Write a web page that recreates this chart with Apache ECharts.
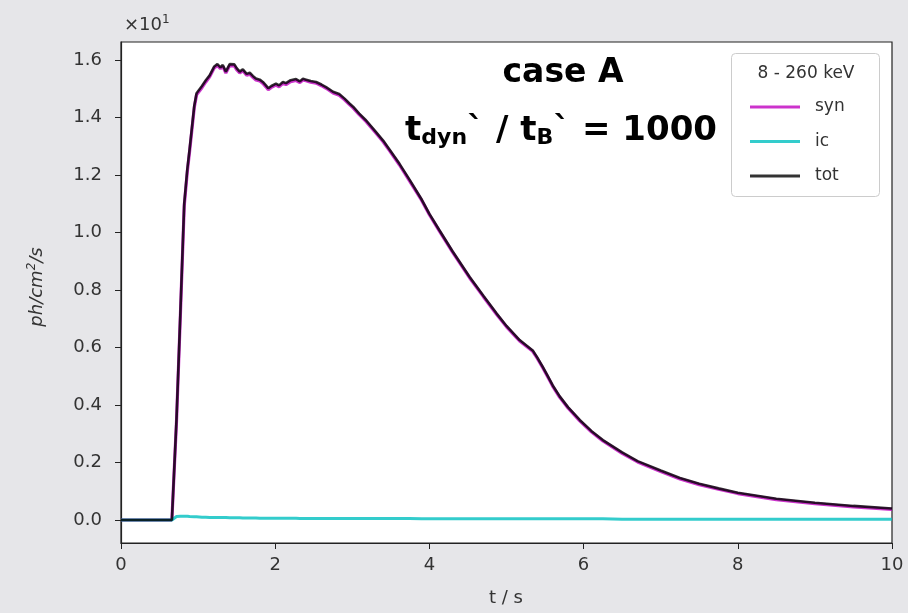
<!DOCTYPE html>
<html>
<head>
<meta charset="utf-8">
<script src="https://cdn.jsdelivr.net/npm/echarts@6/dist/echarts.min.js"></script>
<style>
html,body{margin:0;padding:0;background:#e6e6e9;}
#chart{width:908px;height:613px;}
</style>
</head>
<body>
<div id="chart"></div>
<script>
// time axis (s)
const timeValues = [0.00,0.66,0.72,0.77,0.82,0.86,0.89,0.95,0.98,1.05,1.10,1.15,1.21,1.25,1.29,1.32,1.36,1.41,1.47,1.50,1.54,1.58,1.63,1.67,1.71,1.75,1.80,1.84,1.88,1.91,1.95,2.01,2.05,2.10,2.14,2.20,2.27,2.32,2.36,2.40,2.46,2.53,2.60,2.66,2.75,2.83,2.90,2.96,3.01,3.09,3.18,3.30,3.40,3.48,3.61,3.74,3.90,4.00,4.13,4.30,4.52,4.70,4.87,5.00,5.17,5.34,5.40,5.47,5.52,5.60,5.69,5.80,5.95,6.10,6.25,6.50,6.70,7.00,7.25,7.50,7.75,8.00,8.50,9.00,9.50,10.00];
// total flux (x10^1 ph/cm^2/s)
const totValues = [0.000,0.000,0.350,0.720,1.100,1.220,1.290,1.440,1.485,1.510,1.530,1.547,1.578,1.586,1.575,1.583,1.560,1.586,1.585,1.572,1.560,1.568,1.552,1.556,1.545,1.536,1.532,1.524,1.512,1.502,1.510,1.518,1.512,1.524,1.520,1.530,1.534,1.526,1.535,1.532,1.527,1.524,1.515,1.506,1.490,1.482,1.466,1.450,1.438,1.414,1.390,1.352,1.320,1.290,1.240,1.185,1.115,1.065,1.008,0.935,0.846,0.780,0.719,0.675,0.626,0.590,0.565,0.533,0.508,0.468,0.430,0.392,0.348,0.310,0.278,0.235,0.205,0.172,0.146,0.126,0.110,0.095,0.074,0.060,0.049,0.040];
// synchrotron component
const synValues = [0.000,0.000,0.343,0.711,1.092,1.212,1.283,1.434,1.479,1.504,1.524,1.542,1.573,1.581,1.570,1.578,1.555,1.581,1.580,1.567,1.555,1.563,1.547,1.551,1.540,1.531,1.527,1.519,1.507,1.497,1.505,1.513,1.507,1.519,1.515,1.525,1.529,1.522,1.531,1.528,1.523,1.520,1.511,1.502,1.486,1.478,1.462,1.446,1.434,1.410,1.386,1.348,1.316,1.286,1.236,1.181,1.112,1.062,1.005,0.932,0.843,0.777,0.716,0.672,0.623,0.587,0.562,0.530,0.505,0.465,0.427,0.389,0.345,0.307,0.275,0.232,0.202,0.169,0.143,0.123,0.107,0.092,0.071,0.057,0.046,0.037];
// inverse Compton component
const icValues = [0.000,0.000,0.012,0.013,0.013,0.013,0.012,0.011,0.011,0.010,0.010,0.009,0.009,0.009,0.009,0.009,0.009,0.008,0.008,0.008,0.008,0.007,0.007,0.007,0.007,0.007,0.006,0.006,0.006,0.006,0.006,0.006,0.006,0.006,0.006,0.006,0.006,0.005,0.005,0.005,0.005,0.005,0.005,0.005,0.005,0.005,0.005,0.005,0.005,0.005,0.005,0.005,0.005,0.005,0.005,0.005,0.004,0.004,0.004,0.004,0.004,0.004,0.004,0.004,0.004,0.004,0.004,0.004,0.004,0.004,0.004,0.004,0.004,0.004,0.004,0.003,0.003,0.003,0.003,0.003,0.003,0.003,0.003,0.003,0.003,0.003];

const xTicks = [0,2,4,6,8,10];
const yTicks = [0.0,0.2,0.4,0.6,0.8,1.0,1.2,1.4,1.6];
const seriesNames = ['syn','ic','tot'];
const legendTitle = '8 - 260 keV';

const pairs = (ys) => timeValues.map((t,i)=>[t, ys[i]]);

const chart = echarts.init(document.getElementById('chart'), null, {renderer:'canvas'});
const tickFont = {fontFamily:'DejaVu Sans', fontSize:18, color:'#333'};

chart.setOption({
  animation:false,
  backgroundColor:'#e6e6e9',
  grid:{left:121, right:16, top:42, bottom:70, show:true, backgroundColor:'#ffffff', borderColor:'#222', borderWidth:1.2},
  xAxis:{
    type:'value', min:0, max:10, interval:2,
    axisLine:{show:true, onZero:false, lineStyle:{color:'#222', width:1.2}},
    axisTick:{show:true, length:6, lineStyle:{color:'#222'}, customValues:xTicks},
    axisLabel:{...tickFont, margin:13, customValues:xTicks, formatter:v=>String(v)},
    splitLine:{show:false}
  },
  yAxis:{
    type:'value', min:-0.08, max:1.663,
    axisLine:{show:true, onZero:false, lineStyle:{color:'#222', width:1.2}},
    axisTick:{show:true, length:6, lineStyle:{color:'#222'}, customValues:yTicks},
    axisLabel:{...tickFont, margin:19, customValues:yTicks, formatter:v=>v.toFixed(1)},
    splitLine:{show:false}
  },
  legend:{
    orient:'vertical', left:750, top:97, padding:0,
    data:seriesNames, icon:'rect', itemWidth:50, itemHeight:3, itemGap:14.5,
    textStyle:{fontFamily:'DejaVu Sans', fontSize:17, color:'#333', lineHeight:20, padding:[0,0,0,10]},
    z:10
  },
  series:[
    {name:'syn', type:'line', data:pairs(synValues), showSymbol:false, symbol:'none', color:'rgba(191,0,191,0.8)', lineStyle:{width:3.2}, z:2},
    {name:'ic', type:'line', data:pairs(icValues), showSymbol:false, symbol:'none', color:'rgba(0,191,191,0.8)', lineStyle:{width:3}, z:3},
    {name:'tot', type:'line', data:pairs(totValues), showSymbol:false, symbol:'none', color:'rgba(0,0,0,0.8)', lineStyle:{width:2.6}, z:4}
  ],
  graphic:[
    {type:'rect', z:1, shape:{x:731.5, y:53.5, width:148, height:143, r:4}, style:{fill:'rgba(255,255,255,0.85)', stroke:'#cccccc', lineWidth:1}},
    {type:'text', z:20, x:806, y:74, style:{text:legendTitle, font:'17px "DejaVu Sans"', fill:'#333', align:'center', verticalAlign:'middle'}},
    {type:'text', z:20, x:124, y:25, style:{text:'×10{s|1}', font:'18px "DejaVu Sans"', fill:'#333', align:'left', verticalAlign:'middle', rich:{s:{fontSize:12, fontFamily:'DejaVu Sans', fill:'#333', verticalAlign:'top', padding:[0,0,10,0]}}}},
    {type:'text', z:20, x:506, y:598, style:{text:'t / s', font:'18px "DejaVu Sans"', fill:'#333', align:'center', verticalAlign:'middle'}},
    {type:'text', z:20, x:37, y:287, rotation:Math.PI/2, style:{text:'ph/cm{s|2}/s', font:'italic 18px "DejaVu Sans"', fill:'#333', align:'center', verticalAlign:'middle', rich:{s:{fontSize:12, fontStyle:'italic', fontFamily:'DejaVu Sans', fill:'#333', padding:[0,0,10,0]}}}},
    {type:'text', z:20, x:563, y:73, style:{text:'case A', font:'bold 33px "DejaVu Sans"', fill:'#000', align:'center', verticalAlign:'middle'}},
    {type:'text', z:20, x:561, y:131, style:{
      text:'{m|t}{sub|dyn}{m|` / t}{sub|B}{m|` = 1000}',
      align:'center', verticalAlign:'middle',
      rich:{
        m:{fontFamily:'DejaVu Sans', fontWeight:'bold', fontSize:34, fill:'#000', lineHeight:40},
        sub:{fontFamily:'DejaVu Sans', fontWeight:'bold', fontSize:22, fill:'#000', lineHeight:40, padding:[14,0,0,0]}
      }
    }}
  ]
});
</script>
</body>
</html>
